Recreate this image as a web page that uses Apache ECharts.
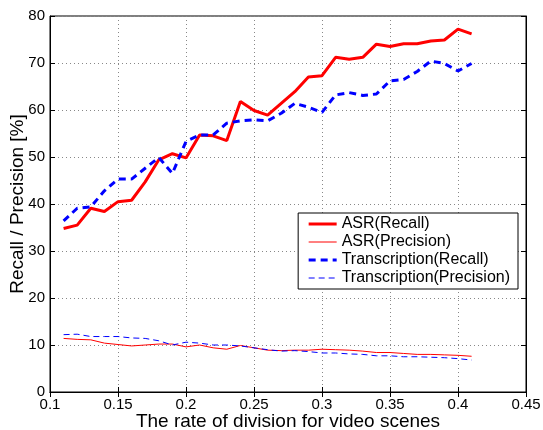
<!DOCTYPE html>
<html><head><meta charset="utf-8">
<script src="https://cdn.jsdelivr.net/npm/echarts@6/dist/echarts.min.js"></script>
<style>html,body{margin:0;padding:0;background:#fff}#c{width:543px;height:430px}</style>
</head><body><div id="c"></div>
<script>
const rates = [0.11,0.12,0.13,0.14,0.15,0.16,0.17,0.18,0.19,0.20,0.21,0.22,0.23,0.24,0.25,0.26,0.27,0.28,0.29,0.30,0.31,0.32,0.33,0.34,0.35,0.36,0.37,0.38,0.39,0.40,0.41];
const asrRecall = [34.8,35.5,39.1,38.4,40.5,40.8,44.7,49.4,50.7,49.8,54.7,54.5,53.5,61.8,59.9,58.9,61.4,63.9,67.0,67.3,71.2,70.8,71.2,74.0,73.5,74.1,74.1,74.7,74.9,77.2,76.2];
const asrPrecision = [11.4,11.2,11.1,10.4,10.1,9.8,10.0,10.2,10.2,9.6,10.0,9.4,9.1,9.9,9.4,8.9,8.8,8.9,8.9,9.1,9.0,8.9,8.7,8.4,8.4,8.2,8.0,8.0,7.9,7.8,7.6];
const trRecall = [36.4,39.1,39.4,42.8,45.3,45.3,47.6,49.9,46.5,53.3,54.7,54.7,57.2,57.7,57.9,57.7,59.3,61.4,60.6,59.5,63.2,63.7,63.1,63.4,66.2,66.5,68.2,70.4,69.9,68.3,69.9];
const trPrecision = [12.2,12.3,11.8,11.8,11.8,11.5,11.4,10.9,10.0,10.6,10.4,10.0,10.0,9.8,9.4,9.0,8.7,8.8,8.6,8.3,8.3,8.1,8.0,7.7,7.7,7.5,7.5,7.4,7.3,7.1,6.8];
const seriesNames = ['ASR(Recall)','ASR(Precision)','Transcription(Recall)','Transcription(Precision)'];

const pair = a => rates.map((r,i)=>[r,a[i]]);
const font = 'Liberation Sans, Arial, Helvetica, sans-serif';
const chart = echarts.init(document.getElementById('c'));
const gridLine = {show:true,lineStyle:{color:'#888',type:[1,3],width:1}};
const tickIn = {show:true,inside:true,length:5,lineStyle:{color:'#000',width:1}};
const styles = [
  {color:'#ff0000',width:3,type:'solid'},
  {color:'#ff0000',width:1,type:'solid'},
  {color:'#0000ff',width:3,type:[7,5]},
  {color:'#0000ff',width:1,type:[6,4]}
];
chart.setOption({
  animation:false,
  backgroundColor:'#fff',
  grid:{left:50,top:16,right:17,bottom:38,show:true,borderColor:'#000',borderWidth:1,outerBoundsMode:'none',containLabel:false},
  legend:{
    show:true, right:25, top:213, orient:'vertical', align:'left',
    backgroundColor:'#fff', borderColor:'#000', borderWidth:1, padding:[3,8,3,9],
    itemWidth:28, itemHeight:12, itemGap:2,
    textStyle:{fontFamily:font,fontSize:16,color:'#000'},
    itemStyle:{opacity:0},
    data:seriesNames.map((n,i)=>({name:n,itemStyle:{opacity:0},lineStyle:{color:styles[i].color,width:styles[i].width,type:styles[i].type}}))
  },
  xAxis:[{
    type:'value', min:0.1, max:0.45, interval:0.05,
    name:'The rate of division for video scenes', nameLocation:'middle', nameGap:20, nameMoveOverlap:false,
    nameTextStyle:{fontFamily:font,fontSize:19,color:'#000'},
    axisLine:{show:true,lineStyle:{color:'#000',width:1}},
    axisTick:tickIn,
    axisLabel:{fontFamily:font,fontSize:15,color:'#000',margin:5,formatter:v=>String(+v.toFixed(2))},
    splitLine:gridLine
  },{
    type:'value', position:'top', min:0.1, max:0.45, interval:0.05,
    axisLine:{show:true,lineStyle:{color:'#000'}}, axisTick:tickIn, axisLabel:{show:false}, splitLine:{show:false}
  }],
  yAxis:[{
    type:'value', min:0, max:80, interval:10,
    name:'Recall / Precision [%]', nameLocation:'middle', nameGap:23, nameMoveOverlap:false,
    nameTextStyle:{fontFamily:font,fontSize:19,color:'#000'},
    axisLine:{show:true,lineStyle:{color:'#000',width:1}},
    axisTick:tickIn,
    axisLabel:{fontFamily:font,fontSize:15,color:'#000',margin:5},
    splitLine:gridLine
  },{
    type:'value', position:'right', min:0, max:80, interval:10,
    axisLine:{show:true,lineStyle:{color:'#000'}}, axisTick:tickIn, axisLabel:{show:false}, splitLine:{show:false}
  }],
  series:[
    {name:seriesNames[0],type:'line',data:pair(asrRecall),showSymbol:false,symbol:'none',lineStyle:styles[0],itemStyle:{color:styles[0].color},z:4},
    {name:seriesNames[1],type:'line',data:pair(asrPrecision),showSymbol:false,symbol:'none',lineStyle:styles[1],itemStyle:{color:styles[1].color},z:3},
    {name:seriesNames[2],type:'line',data:pair(trRecall),showSymbol:false,symbol:'none',lineStyle:styles[2],itemStyle:{color:styles[2].color},z:5},
    {name:seriesNames[3],type:'line',data:pair(trPrecision),showSymbol:false,symbol:'none',lineStyle:styles[3],itemStyle:{color:styles[3].color},z:3}
  ]
});
</script></body></html>
